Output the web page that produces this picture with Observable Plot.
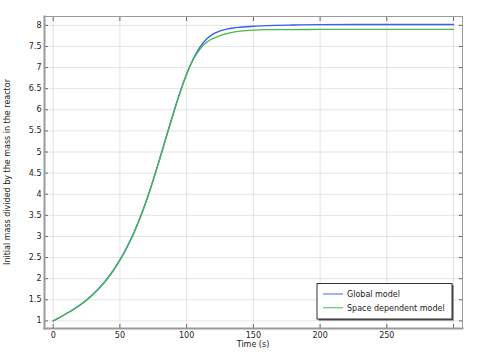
<!DOCTYPE html>
<html>
<head>
<meta charset="utf-8">
<script src="https://cdn.jsdelivr.net/npm/d3@7"></script>
<script src="https://cdn.jsdelivr.net/npm/@observablehq/plot@0.6"></script>
<style>
  html, body { margin: 0; padding: 0; background: #fff; }
  #chart { width: 489px; height: 352px; }
</style>
</head>
<body>
<div id="chart"></div>
<script>
// ---- data ----
const seriesNames = ["Global model", "Space dependent model"];
const seriesColors = ["#3c5cf0", "#44bb44"];

const timeGlobal = [0, 5, 10, 15, 20, 25, 30, 35, 40, 45, 50, 55, 60, 65, 70, 75, 80, 85, 90, 95, 100, 105, 110, 115, 120, 125, 130, 135, 140, 150, 160, 180, 200, 250, 300];
const massGlobal = [1.000, 1.085, 1.175, 1.270, 1.375, 1.495, 1.635, 1.795, 1.980, 2.195, 2.445, 2.730, 3.055, 3.435, 3.865, 4.345, 4.860, 5.390, 5.915, 6.410, 6.850, 7.210, 7.485, 7.675, 7.800, 7.868, 7.910, 7.938, 7.955, 7.980, 7.995, 8.009, 8.017, 8.020, 8.020];

const timeSpace = [0, 5, 10, 15, 20, 25, 30, 35, 40, 45, 50, 55, 60, 65, 70, 75, 80, 85, 90, 95, 100, 105, 110, 115, 120, 125, 130, 135, 140, 150, 160, 180, 200, 250, 300];
const massSpace = [1.000, 1.085, 1.174, 1.268, 1.372, 1.491, 1.630, 1.789, 1.973, 2.187, 2.436, 2.720, 3.044, 3.424, 3.854, 4.334, 4.849, 5.379, 5.904, 6.400, 6.840, 7.190, 7.440, 7.600, 7.693, 7.758, 7.805, 7.840, 7.863, 7.889, 7.897, 7.901, 7.903, 7.905, 7.905];

const xTicks = [0, 50, 100, 150, 200, 250, 300];
const xTickLabels = [0, 50, 100, 150, 200, 250];
const yTicks = [1, 1.5, 2, 2.5, 3, 3.5, 4, 4.5, 5, 5.5, 6, 6.5, 7, 7.5, 8];
const xTitle = "Time (s)";
const yTitle = "Initial mass divided by the mass in the reactor";

// ---- build tables ----
const globalData = timeGlobal.map((t, i) => ({t, v: massGlobal[i]}));
const spaceData = timeSpace.map((t, i) => ({t, v: massSpace[i]}));

const W = 489, H = 352;
const mL = 44, mR = 27, mT = 16, mB = 24;
const font = "DejaVu Sans, sans-serif";
const gridColor = "#e3e3e3";
const axisColor = "#9a9a9a";

const plot = Plot.plot({
  width: W,
  height: H,
  marginLeft: mL,
  marginRight: mR,
  marginTop: mT,
  marginBottom: mB,
  style: {fontFamily: font, fontSize: "8px", background: "#fff", color: "#222"},
  x: {domain: [-6.5, 306.7]},
  y: {domain: [0.82, 8.21]},
  marks: [
    Plot.gridX(xTicks, {stroke: gridColor, strokeOpacity: 1}),
    Plot.gridY(yTicks, {stroke: gridColor, strokeOpacity: 1}),
    // tick labels
    Plot.axisX(xTickLabels, {anchor: "bottom", tickSize: 0, tickPadding: 4, label: null, fill: "#222"}),
    Plot.axisY(yTicks, {anchor: "left", tickSize: 0, tickPadding: 3, label: null, fill: "#222", tickFormat: d => String(d)}),
    // inward tick marks
    Plot.axisX(xTicks, {anchor: "bottom", tickSize: 4, text: null, dy: -4, label: null, stroke: "#666"}),
    Plot.axisX(xTicks, {anchor: "top", tickSize: 4, text: null, dy: 4, label: null, stroke: "#666"}),
    Plot.axisY(yTicks, {anchor: "left", tickSize: 4, text: null, dx: 4, label: null, stroke: "#666"}),
    Plot.axisY(yTicks, {anchor: "right", tickSize: 4, text: null, dx: -4, label: null, stroke: "#666"}),
    Plot.frame({stroke: axisColor, strokeWidth: 1}),
    Plot.frame({anchor: "left", stroke: axisColor, strokeWidth: 2}),
    Plot.frame({anchor: "bottom", stroke: axisColor, strokeWidth: 2}),
    Plot.line(globalData, {x: "t", y: "v", stroke: seriesColors[0], strokeWidth: 1.4, curve: "monotone-x"}),
    Plot.line(spaceData, {x: "t", y: "v", stroke: seriesColors[1], strokeWidth: 1.3, curve: "monotone-x"})
  ]
});

const svg = d3.select(plot);
// axis titles
svg.append("text")
  .attr("x", (mL + (W - mR)) / 2)
  .attr("y", 347)
  .attr("text-anchor", "middle")
  .attr("font-family", font)
  .attr("font-size", 8)
  .attr("fill", "#222")
  .text(xTitle);
svg.append("text")
  .attr("transform", `translate(10, ${(mT + (H - mB)) / 2}) rotate(-90)`)
  .attr("text-anchor", "middle")
  .attr("font-family", font)
  .attr("font-size", 8)
  .attr("fill", "#222")
  .text(yTitle);

// legend
const lg = svg.append("g").attr("transform", "translate(317, 283.5)");
lg.append("rect").attr("x", 1.5).attr("y", 1.5).attr("width", 135).attr("height", 35.5).attr("fill", "#555");
lg.append("rect").attr("x", 0).attr("y", 0).attr("width", 135).attr("height", 35.5)
  .attr("fill", "#fff").attr("stroke", "#333").attr("stroke-width", 1);
seriesNames.forEach((name, i) => {
  const y = 10.5 + i * 13.7;
  lg.append("line").attr("x1", 6).attr("x2", 26).attr("y1", y).attr("y2", y)
    .attr("stroke", seriesColors[i]).attr("stroke-width", 1.3).attr("stroke-opacity", 0.75);
  lg.append("text").attr("x", 30).attr("y", y + 3)
    .attr("text-anchor", "start")
    .attr("font-family", font).attr("font-size", 8).attr("fill", "#222").text(name);
});

document.getElementById("chart").appendChild(plot);
</script>
</body>
</html>
